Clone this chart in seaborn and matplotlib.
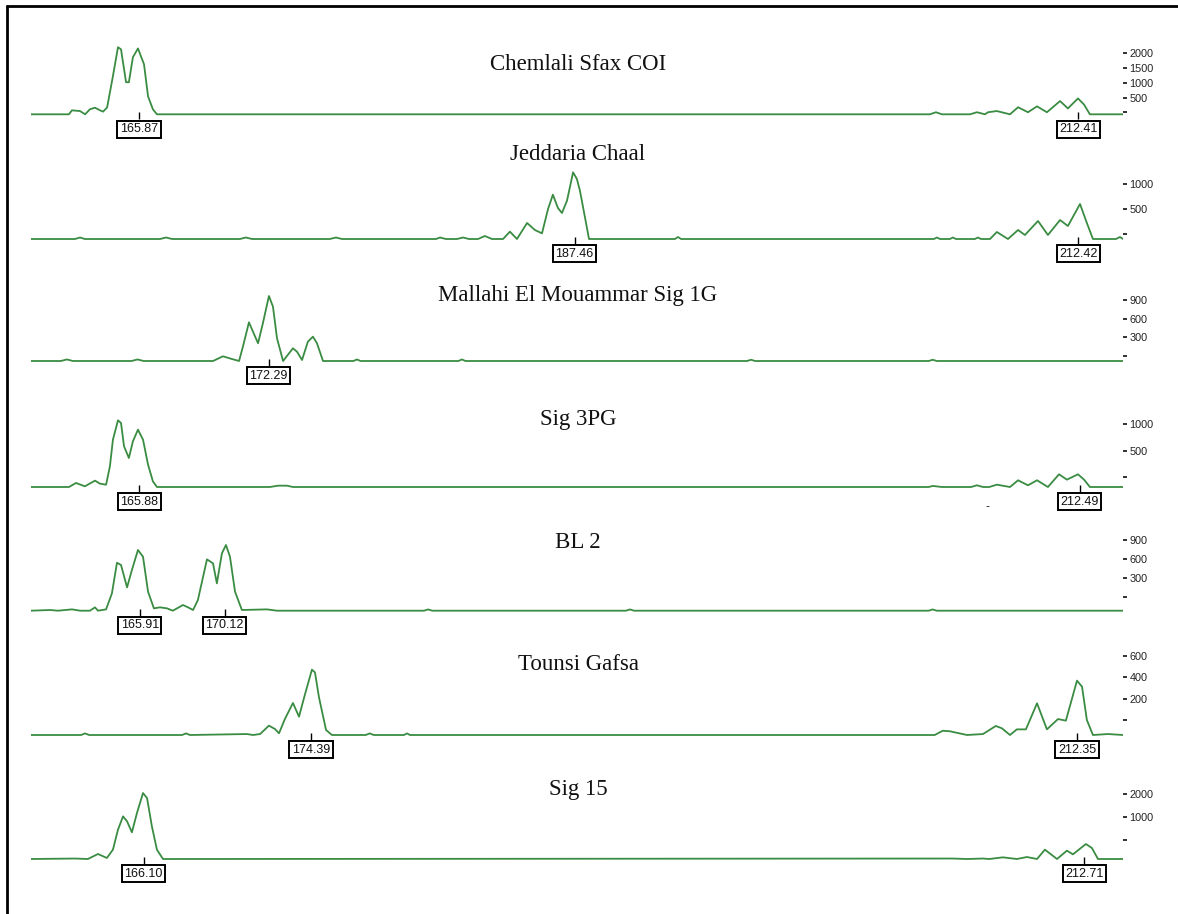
import matplotlib
matplotlib.use('Agg')
import matplotlib.pyplot as plt
import seaborn as sns
import pandas as pd
from matplotlib.lines import Line2D

sns.set_theme(style='white')
plt.rcParams['font.family'] = ['Liberation Sans', 'DejaVu Sans']

# ---------------- data ----------------
TITLES = ["Chemlali Sfax COI", "Jeddaria Chaal", "Mallahi El Mouammar Sig 1G",
          "Sig 3PG", "BL 2", "Tounsi Gafsa", "Sig 15"]

# traces: (size in bp, signal in RFU above baseline)
TRACE_CHEMLALI = [(160.52, 0), (162.40, 0), (162.55, 135), (162.95, 110), (163.20, 0), (163.44, 170),
                  (163.69, 225), (163.94, 135), (164.09, 90), (164.29, 230), (164.58, 1300), (164.83, 2280),
                  (164.98, 2210), (165.23, 1090), (165.37, 1090), (165.57, 1940), (165.82, 2240), (166.12, 1700),
                  (166.32, 610), (166.56, 170), (166.76, 0), (205.06, 0), (205.36, 70), (205.66, 0),
                  (207.05, 0), (207.39, 70), (207.79, 0), (207.94, 70), (208.38, 110), (209.03, 0),
                  (209.43, 240), (209.92, 70), (210.37, 270), (210.86, 70), (211.51, 450), (211.90, 200),
                  (212.40, 540), (212.70, 330), (212.99, 0), (214.63, 0)]

TRACE_JEDDARIA = [(160.52, 0), (162.70, 0), (162.95, 30), (163.19, 0), (166.91, 0), (167.21, 30), (167.51, 0),
                  (170.87, 0), (171.17, 30), (171.47, 0), (175.33, 0), (175.63, 30), (175.93, 0),
                  (180.59, 0), (180.79, 30), (181.08, 0), (181.63, 0), (181.93, 30), (182.22, 0),
                  (182.67, 0), (183.01, 60), (183.36, 0), (183.91, 0), (184.25, 147), (184.60, 0),
                  (185.10, 320), (185.49, 180), (185.84, 113), (186.14, 600), (186.38, 887), (186.63, 620),
                  (186.83, 520), (187.08, 767), (187.38, 1333), (187.57, 1200), (187.72, 967), (187.97, 433),
                  (188.17, 0), (192.43, 0), (192.58, 40), (192.73, 0), (205.26, 0), (205.41, 30), (205.56, 0),
                  (206.05, 0), (206.20, 30), (206.35, 0), (207.29, 0), (207.44, 30), (207.59, 0),
                  (208.04, 0), (208.38, 140), (208.93, 0), (209.43, 180), (209.77, 80), (210.42, 360),
                  (210.91, 80), (211.51, 380), (211.90, 260), (212.50, 700), (212.84, 320), (213.14, 0),
                  (214.28, 0), (214.48, 40), (214.63, 0)]

TRACE_MALLAHI = [(160.52, 0), (162.00, 0), (162.30, 25), (162.60, 0), (165.50, 0), (165.80, 25), (166.10, 0),
                 (168.89, 0), (169.54, 0), (170.03, 76), (170.48, 32), (170.83, 0), (171.02, 232),
                 (171.32, 627), (171.52, 475), (171.77, 287), (172.01, 611), (172.31, 1053), (172.51, 880),
                 (172.71, 368), (173.01, 0), (173.50, 206), (173.70, 151), (173.95, 16), (174.24, 313),
                 (174.49, 394), (174.69, 287), (174.99, 0), (176.50, 0), (176.67, 25), (176.85, 0),
                 (181.70, 0), (181.87, 25), (182.05, 0), (196.00, 0), (196.20, 20), (196.40, 0),
                 (205.00, 0), (205.20, 20), (205.40, 0), (214.63, 0)]

TRACE_SIG3PG = [(160.52, 0), (162.40, 0), (162.75, 76), (163.19, 13), (163.69, 120), (163.94, 63),
                (164.24, 44), (164.43, 391), (164.58, 895), (164.83, 1260), (164.98, 1210), (165.13, 769),
                (165.37, 548), (165.57, 863), (165.82, 1084), (166.07, 895), (166.32, 422), (166.56, 107),
                (166.76, 0), (172.36, 0), (172.76, 25), (173.20, 25), (173.50, 0), (205.00, 0),
                (205.21, 20), (205.66, 0), (207.10, 0), (207.39, 32), (207.69, 0), (208.00, 0),
                (208.38, 44), (209.03, 0), (209.43, 127), (209.92, 32), (210.37, 127), (210.91, 0),
                (211.46, 240), (211.85, 139), (212.40, 240), (212.70, 139), (212.99, 0), (214.63, 0)]

TRACE_BL2 = [(160.52, 0), (161.46, 11), (161.86, 0), (162.55, 21), (162.95, 0), (163.44, 0), (163.69, 53),
             (163.84, 0), (164.24, 21), (164.53, 274), (164.78, 758), (164.98, 722), (165.28, 368),
             (165.52, 643), (165.82, 959), (166.07, 853), (166.32, 300), (166.61, 37), (166.91, 53),
             (167.26, 37), (167.55, 0), (168.05, 90), (168.30, 53), (168.55, 11), (168.79, 169),
             (169.24, 811), (169.54, 748), (169.73, 432), (169.98, 906), (170.18, 1038), (170.38, 853),
             (170.63, 300), (170.97, 11), (172.21, 21), (172.71, 0), (180.00, 0), (180.20, 20),
             (180.40, 0), (190.00, 0), (190.20, 20), (190.40, 0), (205.00, 0), (205.20, 20),
             (205.40, 0), (214.63, 0)]

TRACE_TOUNSI = [(160.52, 0), (163.00, 0), (163.20, 15), (163.40, 0), (168.00, 0), (168.20, 15), (168.40, 0),
                (171.22, 9), (171.52, 0), (171.87, 9), (172.31, 88), (172.61, 56), (172.81, 16),
                (173.10, 150), (173.50, 301), (173.80, 172), (174.10, 385), (174.44, 614), (174.59, 589),
                (174.79, 354), (175.14, 47), (175.43, 0), (177.10, 0), (177.31, 15), (177.50, 0),
                (179.00, 0), (179.15, 15), (179.30, 0), (205.30, 0), (205.70, 40), (206.05, 35),
                (206.90, 0), (207.69, 9), (208.33, 85), (208.63, 63), (209.03, 0), (209.37, 53),
                (209.82, 53), (210.37, 298), (210.86, 53), (211.41, 150), (211.80, 135), (212.35, 511),
                (212.60, 454), (212.84, 141), (213.14, 0), (213.88, 9), (214.63, 0)]

TRACE_SIG15 = [(160.52, 0), (162.70, 20), (163.34, 0), (163.84, 214), (164.28, 43), (164.58, 399),
               (164.83, 1252), (165.08, 1821), (165.28, 1608), (165.52, 1139), (165.77, 1963),
               (166.07, 2816), (166.27, 2603), (166.51, 1395), (166.76, 399), (167.06, 0), (206.20, 20),
               (206.90, 0), (207.69, 20), (208.00, 0), (208.68, 71), (209.37, 0), (209.87, 85),
               (210.37, 0), (210.76, 399), (211.36, 0), (211.85, 356), (212.15, 199), (212.79, 640),
               (213.09, 470), (213.39, 0), (214.63, 0)]

TRACES = [TRACE_CHEMLALI, TRACE_JEDDARIA, TRACE_MALLAHI, TRACE_SIG3PG, TRACE_BL2, TRACE_TOUNSI, TRACE_SIG15]

PEAK_LABELS = [[165.87, 212.41], [187.46, 212.42], [172.29], [165.88, 212.49],
               [165.91, 170.12], [174.39, 212.35], [166.10, 212.71]]

Y_TICKS = [[0, 500, 1000, 1500, 2000], [0, 500, 1000], [0, 300, 600, 900], [0, 500, 1000],
           [0, 300, 600, 900], [0, 200, 400, 600], [0, 1000, 2000]]
# baseline level of each trace on its own axis (RFU below the axis zero)
BASELINE_RFU = [68, 100, 81, 189, 216, 141, 795]

# ---------------- layout / style ----------------
W, H = 1178, 914
BASE_PX = [114.3, 239, 361, 487, 610.7, 735, 859]
RFU_PER_PX = [34, 20, 16.2, 18.9, 15.8, 9.4, 42.7]
TITLE_Y = [64, 155, 296, 420, 543, 665, 790]
X_MIN, X_MAX = 160.52, 214.63
PX_L, PX_R = 31, 1123
GREEN = '#3a8c42'

fig = plt.figure(figsize=(W / 100, H / 100), dpi=100)
fig.patch.set_facecolor('white')

for i in range(7):
    bpx = BASE_PX[i]
    rpp = RFU_PER_PX[i]
    top_px, bot_px = bpx - 82, bpx + 4
    ax = fig.add_axes([PX_L / W, 1 - bot_px / H, (PX_R - PX_L) / W, (bot_px - top_px) / H])
    ax.set_xlim(X_MIN, X_MAX)
    ax.set_ylim(-4 * rpp, 82 * rpp)
    df = pd.DataFrame(TRACES[i], columns=['bp', 'rfu'])
    sns.lineplot(data=df, x='bp', y='rfu', ax=ax, color=GREEN, linewidth=1.3,
                 estimator=None, sort=False)
    for ln in ax.lines:
        ln.set_solid_joinstyle('round')
    for s in ax.spines.values():
        s.set_visible(False)
    ax.patch.set_alpha(0)
    ax.grid(False)
    ax.set_xticks([])
    ax.set_xlabel('')
    ax.set_ylabel('')
    ax.yaxis.tick_right()
    off = BASELINE_RFU[i]
    ax.set_yticks([v + off for v in Y_TICKS[i]])
    ax.set_yticklabels(['' if v == 0 else str(v) for v in Y_TICKS[i]])
    ax.tick_params(axis='y', right=True, left=False, length=3, width=1.3, pad=1.5,
                   labelsize=7.8, colors='#222222', direction='out')
    for lab in PEAK_LABELS[i]:
        ax.vlines(lab, -5 * rpp, 2 * rpp, color='black', lw=1, clip_on=False)
        ax.annotate(f'{lab:.2f}', xy=(lab, 0), xycoords='data', xytext=(0, -6.3),
                    textcoords='offset points', ha='center', va='top', fontsize=9,
                    color='#111111',
                    bbox=dict(boxstyle='square,pad=0.2', fc='white', ec='black', lw=1.4),
                    annotation_clip=False)
    fig.text(578 / W, 1 - TITLE_Y[i] / H, TITLES[i], ha='center', va='center',
             family=['Liberation Serif', 'DejaVu Serif'], fontsize=16.5, color='#111111')

# stray dash below the Sig 3PG trace
fig.text(988 / W, 1 - 507 / H, '-', ha='center', va='center', fontsize=9, color='#222222')

# outer frame (left and top edges)
fig.add_artist(Line2D([7 / W, 7 / W], [0, 1 - 6 / H], transform=fig.transFigure, color='black', lw=2))
fig.add_artist(Line2D([7 / W, 1], [1 - 6 / H, 1 - 6 / H], transform=fig.transFigure, color='black', lw=2))

fig.savefig('out.png', dpi=100, facecolor='white')
